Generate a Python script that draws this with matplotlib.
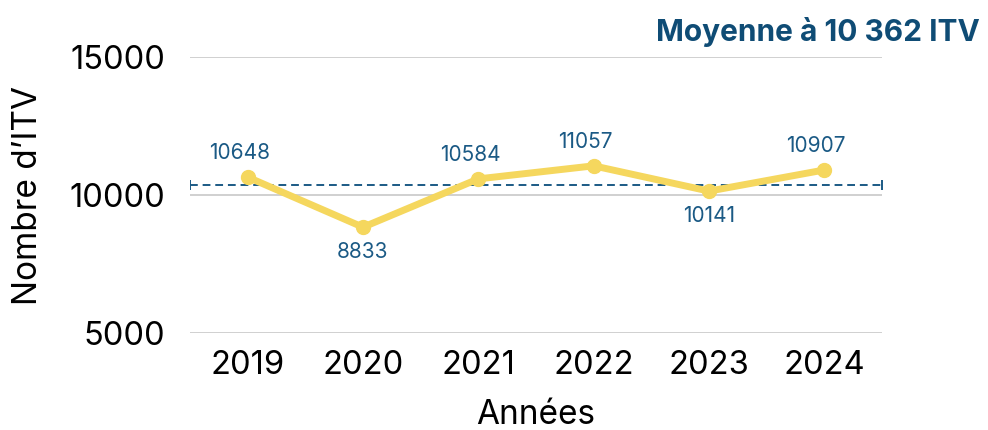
import matplotlib
matplotlib.use("Agg")
import matplotlib.pyplot as plt

years = ["2019", "2020", "2021", "2022", "2023", "2024"]
values = [10648, 8833, 10584, 11057, 10141, 10907]
label_pos = ["above", "below", "above", "above", "below", "above"]
mean_value = 10362
title = "Moyenne à 10 362 ITV"
y_ticks = [5000, 10000, 15000]

plt.rcParams['font.family'] = ['Inter', 'DejaVu Sans']

fig = plt.figure(figsize=(9.88, 4.30), dpi=100)
ax = fig.add_axes([0.1923, 0.2256, 0.7004, 0.6418])

x = list(range(len(years)))
line_color = "#F5D75E"
blue = "#1B5A85"

ax.set_xlim(-0.5, len(years) - 0.5)
ax.set_ylim(5000, 15000)
ax.set_yticks(y_ticks)
ax.set_yticklabels([str(t) for t in y_ticks])
ax.set_xticks(x)
ax.set_xticklabels(years)
ax.grid(axis="y", color="#C8C8C8", linewidth=1.2)
ax.set_axisbelow(True)
for s in ax.spines.values():
    s.set_visible(False)
ax.tick_params(axis="both", length=0, labelsize=23.5, labelcolor="black")
ax.tick_params(axis="y", pad=18)
ax.tick_params(axis="x", pad=12)

ax.plot([-0.5, len(years) - 0.5], [mean_value, mean_value], color=blue,
        linestyle=(0, (4, 2.5)), linewidth=1.4, marker="|", markersize=7,
        markeredgewidth=1.4, zorder=2)

ax.plot(x, values, color=line_color, linewidth=5, marker="o", markersize=10,
        zorder=3, solid_capstyle="round")

for xi, v, pos in zip(x, values, label_pos):
    if pos == "above":
        ax.annotate(str(v), (xi, v), xytext=(-6, 10), textcoords="offset points",
                    ha="center", va="bottom", fontsize=15, color=blue)
    else:
        ax.annotate(str(v), (xi, v), xytext=(0, -11), textcoords="offset points",
                    ha="center", va="top", fontsize=15, color=blue)

ax.set_xlabel("Années", fontsize=24, labelpad=13)
ax.set_ylabel("Nombre d’ITV", fontsize=24, labelpad=18)

fig.text(0.992, 0.925, title, ha="right", va="center", fontsize=21.5,
         fontweight="bold", color="#0F4C75")

fig.savefig("out.png", dpi=100)
